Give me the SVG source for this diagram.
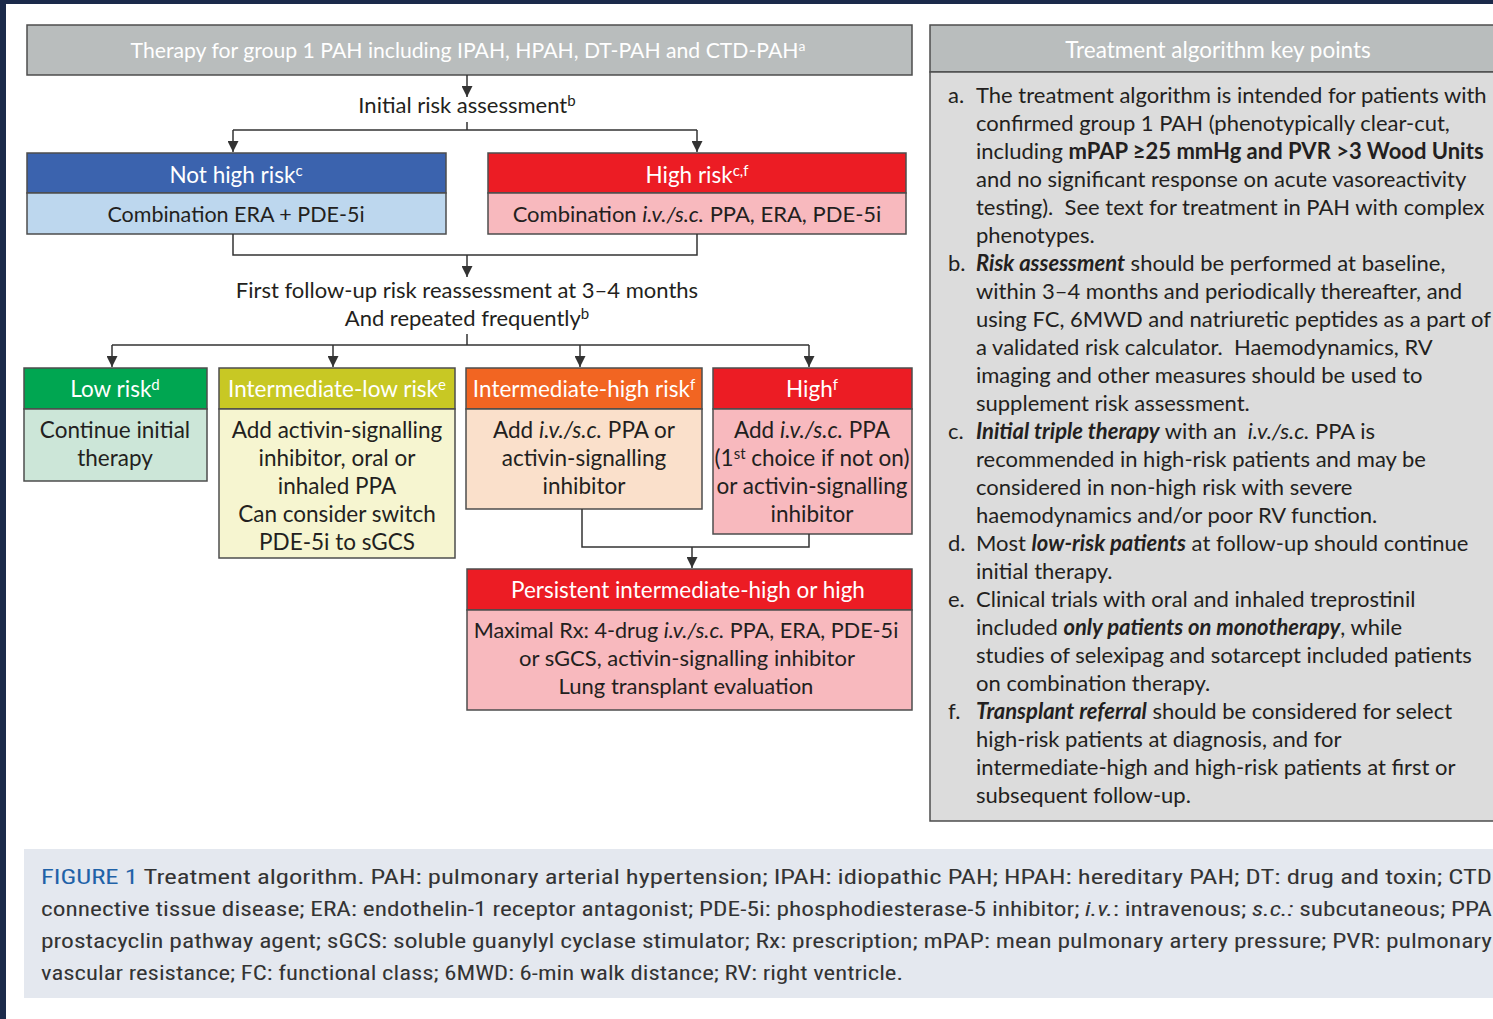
<svg xmlns="http://www.w3.org/2000/svg" width="1493" height="1019" viewBox="0 0 1493 1019">
<defs>
<marker id="ah" markerUnits="userSpaceOnUse" markerWidth="11" markerHeight="11" viewBox="0 0 10 10" refX="10" refY="5" orient="auto">
<path d="M0,0 L10,5 L0,10 Z" fill="#333"/>
</marker>
<style>
.t{font-family:Lato,"Noto Sans","Liberation Sans",sans-serif;font-size:22px;fill:#231f20}
.k{font-size:22px}
.h{font-size:22.5px}
.w{fill:#fff}
.c{text-anchor:middle}
.box{stroke:#4d4d4d;stroke-width:1.5}
.con{fill:none;stroke:#333;stroke-width:1.5}
.bi{font-weight:bold;font-style:italic}
.b{font-weight:bold}
.i{font-style:italic}
.cap{font-family:"Liberation Sans Narrow","Roboto Condensed","Liberation Sans",sans-serif;font-size:20.5px;fill:#333}
</style>
</defs>
<rect x="0" y="0" width="1493" height="1019" fill="#1b2a4a"/>
<rect x="6" y="4" width="1487" height="1015" fill="#fff"/>

<g id="title">
<rect class="box" x="27" y="25" width="885" height="50" fill="#b9bdbd"/>
<text class="t w c" x="468" y="58" style="font-size:21.2px">Therapy for group 1 PAH including IPAH, HPAH, DT-PAH and CTD-PAH<tspan dy="-7" style="font-size:14px">a</tspan></text>
</g>

<g id="initial-label">
<text class="t c" x="467" y="113">Initial risk assessment<tspan dy="-7" style="font-size:15px">b</tspan></text>
</g>

<g id="not-high-risk">
<rect class="box" x="27" y="153" width="419" height="40" fill="#3b63ae"/>
<rect class="box" x="27" y="193" width="419" height="41" fill="#bdd7ee"/>
<text class="t h w c" x="236" y="183">Not high risk<tspan dy="-7" style="font-size:15px">c</tspan></text>
<text class="t c" x="236" y="222" style="font-size:21.5px">Combination ERA + PDE-5i</text>
</g>

<g id="high-risk">
<rect class="box" x="488" y="153" width="418" height="40" fill="#ec1c24"/>
<rect class="box" x="488" y="193" width="418" height="41" fill="#f8b9be"/>
<text class="t h w c" x="697" y="183">High risk<tspan dy="-7" style="font-size:15px">c,f</tspan></text>
<text class="t c" x="697" y="222">Combination <tspan class="i">i.v./s.c.</tspan> PPA, ERA, PDE-5i</text>
</g>

<g id="followup-label">
<text class="t c" x="467" y="298">First follow-up risk reassessment at 3–4 months</text>
<text class="t c" x="467" y="326">And repeated frequently<tspan dy="-7" style="font-size:15px">b</tspan></text>
</g>

<g id="low-risk">
<rect class="box" x="24" y="368" width="183" height="41" fill="#00a651"/>
<rect class="box" x="24" y="409" width="183" height="72" fill="#cce6d8"/>
<text class="t h w c" x="115" y="397">Low risk<tspan dy="-7" style="font-size:15px">d</tspan></text>
<text class="t h c" x="115" y="438">Continue initial</text>
<text class="t h c" x="115" y="466">therapy</text>
</g>

<g id="intermediate-low">
<rect class="box" x="219" y="368" width="236" height="41" fill="#c8c824"/>
<rect class="box" x="219" y="409" width="236" height="149" fill="#f6f5d0"/>
<text class="t h w c" x="337" y="397">Intermediate-low risk<tspan dy="-7" style="font-size:15px">e</tspan></text>
<text class="t h c" x="337" y="438">Add activin-signalling</text>
<text class="t h c" x="337" y="466">inhibitor, oral or</text>
<text class="t h c" x="337" y="494">inhaled PPA</text>
<text class="t h c" x="337" y="522">Can consider switch</text>
<text class="t h c" x="337" y="550">PDE-5i to sGCS</text>
</g>

<g id="intermediate-high">
<rect class="box" x="466" y="368" width="236" height="41" fill="#f26522"/>
<rect class="box" x="466" y="409" width="236" height="100" fill="#fae0cb"/>
<text class="t h w c" x="584" y="397">Intermediate-high risk<tspan dy="-7" style="font-size:15px">f</tspan></text>
<text class="t h c" x="584" y="438">Add <tspan class="i">i.v./s.c.</tspan> PPA or</text>
<text class="t h c" x="584" y="466">activin-signalling</text>
<text class="t h c" x="584" y="494">inhibitor</text>
</g>

<g id="high">
<rect class="box" x="713" y="368" width="199" height="41" fill="#ec1c24"/>
<rect class="box" x="713" y="409" width="199" height="125" fill="#f8b9be"/>
<text class="t h w c" x="812" y="397">High<tspan dy="-7" style="font-size:15px">f</tspan></text>
<text class="t h c" x="812" y="438">Add <tspan class="i">i.v./s.c.</tspan> PPA</text>
<text class="t h c" x="812" y="466">(1<tspan dy="-7" style="font-size:15px">st</tspan><tspan dy="7"> choice if not on)</tspan></text>
<text class="t h c" x="812" y="494">or activin-signalling</text>
<text class="t h c" x="812" y="522">inhibitor</text>
</g>

<g id="persistent">
<rect class="box" x="467" y="569" width="445" height="41" fill="#ec1c24"/>
<rect class="box" x="467" y="610" width="445" height="100" fill="#f8b9be"/>
<text class="t h w c" x="688" y="598">Persistent intermediate-high or high</text>
<text class="t c" x="686" y="638" style="font-size:21.6px">Maximal Rx: 4-drug <tspan class="i">i.v./s.c.</tspan> PPA, ERA, PDE-5i</text>
<text class="t c" x="687" y="666">or sGCS, activin-signalling inhibitor</text>
<text class="t c" x="686" y="694">Lung transplant evaluation</text>
</g>

<g id="connectors">
<path class="con" d="M467,75 V97" marker-end="url(#ah)"/>
<path class="con" d="M467,122 V130 M233,130 H697"/>
<path class="con" d="M233,130 V152" marker-end="url(#ah)"/>
<path class="con" d="M697,130 V152" marker-end="url(#ah)"/>
<path class="con" d="M233,234 V255 H697 V234"/>
<path class="con" d="M467,255 V277" marker-end="url(#ah)"/>
<path class="con" d="M467,334 V345 M112,345 H809"/>
<path class="con" d="M112,345 V367" marker-end="url(#ah)"/>
<path class="con" d="M333,345 V367" marker-end="url(#ah)"/>
<path class="con" d="M580,345 V367" marker-end="url(#ah)"/>
<path class="con" d="M809,345 V367" marker-end="url(#ah)"/>
<path class="con" d="M582,509 V547 H809 V534"/>
<path class="con" d="M692,547 V568" marker-end="url(#ah)"/>
</g>

<g id="key-points">
<rect class="box" x="930" y="25" width="580" height="47" fill="#b9bdbd"/>
<rect class="box" x="930" y="72" width="580" height="749" fill="#dcdcdc"/>
<text class="t h w c" x="1218" y="58">Treatment algorithm key points</text>
<g class="t k">
<text x="948" y="103">a.</text>
<text x="976" y="103">The treatment algorithm is intended for patients with</text>
<text x="976" y="131">confirmed group 1 PAH (phenotypically clear-cut,</text>
<text x="976" y="159">including <tspan class="b">mPAP ≥25 mmHg and PVR &gt;3 Wood Units</tspan></text>
<text x="976" y="187">and no significant response on acute vasoreactivity</text>
<text x="976" y="215" xml:space="preserve">testing).  See text for treatment in PAH with complex</text>
<text x="976" y="243">phenotypes.</text>
<text x="948" y="271">b.</text>
<text x="976" y="271"><tspan class="bi">Risk assessment</tspan> should be performed at baseline,</text>
<text x="976" y="299">within 3–4 months and periodically thereafter, and</text>
<text x="976" y="327">using FC, 6MWD and natriuretic peptides as a part of</text>
<text x="976" y="355" xml:space="preserve">a validated risk calculator.  Haemodynamics, RV</text>
<text x="976" y="383">imaging and other measures should be used to</text>
<text x="976" y="411">supplement risk assessment.</text>
<text x="948" y="439">c.</text>
<text x="976" y="439" xml:space="preserve"><tspan class="bi">Initial triple therapy</tspan> with an  <tspan class="i">i.v./s.c.</tspan> PPA is</text>
<text x="976" y="467">recommended in high-risk patients and may be</text>
<text x="976" y="495">considered in non-high risk with severe</text>
<text x="976" y="523">haemodynamics and/or poor RV function.</text>
<text x="948" y="551">d.</text>
<text x="976" y="551">Most <tspan class="bi">low-risk patients</tspan> at follow-up should continue</text>
<text x="976" y="579">initial therapy.</text>
<text x="948" y="607">e.</text>
<text x="976" y="607">Clinical trials with oral and inhaled treprostinil</text>
<text x="976" y="635">included <tspan class="bi">only patients on monotherapy</tspan>, while</text>
<text x="976" y="663">studies of selexipag and sotarcept included patients</text>
<text x="976" y="691">on combination therapy.</text>
<text x="948" y="719">f.</text>
<text x="976" y="719"><tspan class="bi">Transplant referral</tspan> should be considered for select</text>
<text x="976" y="747">high-risk patients at diagnosis, and for</text>
<text x="976" y="775">intermediate-high and high-risk patients at first or</text>
<text x="976" y="803">subsequent follow-up.</text>
</g>
</g>

<g id="caption">
<rect x="24" y="849" width="1480" height="149" fill="#e4e8ef"/>
<text class="cap" x="41" y="884" textLength="1451" lengthAdjust="spacingAndGlyphs"><tspan fill="#1f62a8">FIGURE 1</tspan> Treatment algorithm. PAH: pulmonary arterial hypertension; IPAH: idiopathic PAH; HPAH: hereditary PAH; DT: drug and toxin; CTD</text>
<text class="cap" x="41" y="916" textLength="1451" lengthAdjust="spacingAndGlyphs">connective tissue disease; ERA: endothelin-1 receptor antagonist; PDE-5i: phosphodiesterase-5 inhibitor; <tspan class="i">i.v.</tspan>: intravenous; <tspan class="i">s.c.:</tspan> subcutaneous; PPA</text>
<text class="cap" x="41" y="948" textLength="1451" lengthAdjust="spacingAndGlyphs">prostacyclin pathway agent; sGCS: soluble guanylyl cyclase stimulator; Rx: prescription; mPAP: mean pulmonary artery pressure; PVR: pulmonary</text>
<text class="cap" x="41" y="980" textLength="862" lengthAdjust="spacingAndGlyphs">vascular resistance; FC: functional class; 6MWD: 6-min walk distance; RV: right ventricle.</text>
</g>
</svg>
